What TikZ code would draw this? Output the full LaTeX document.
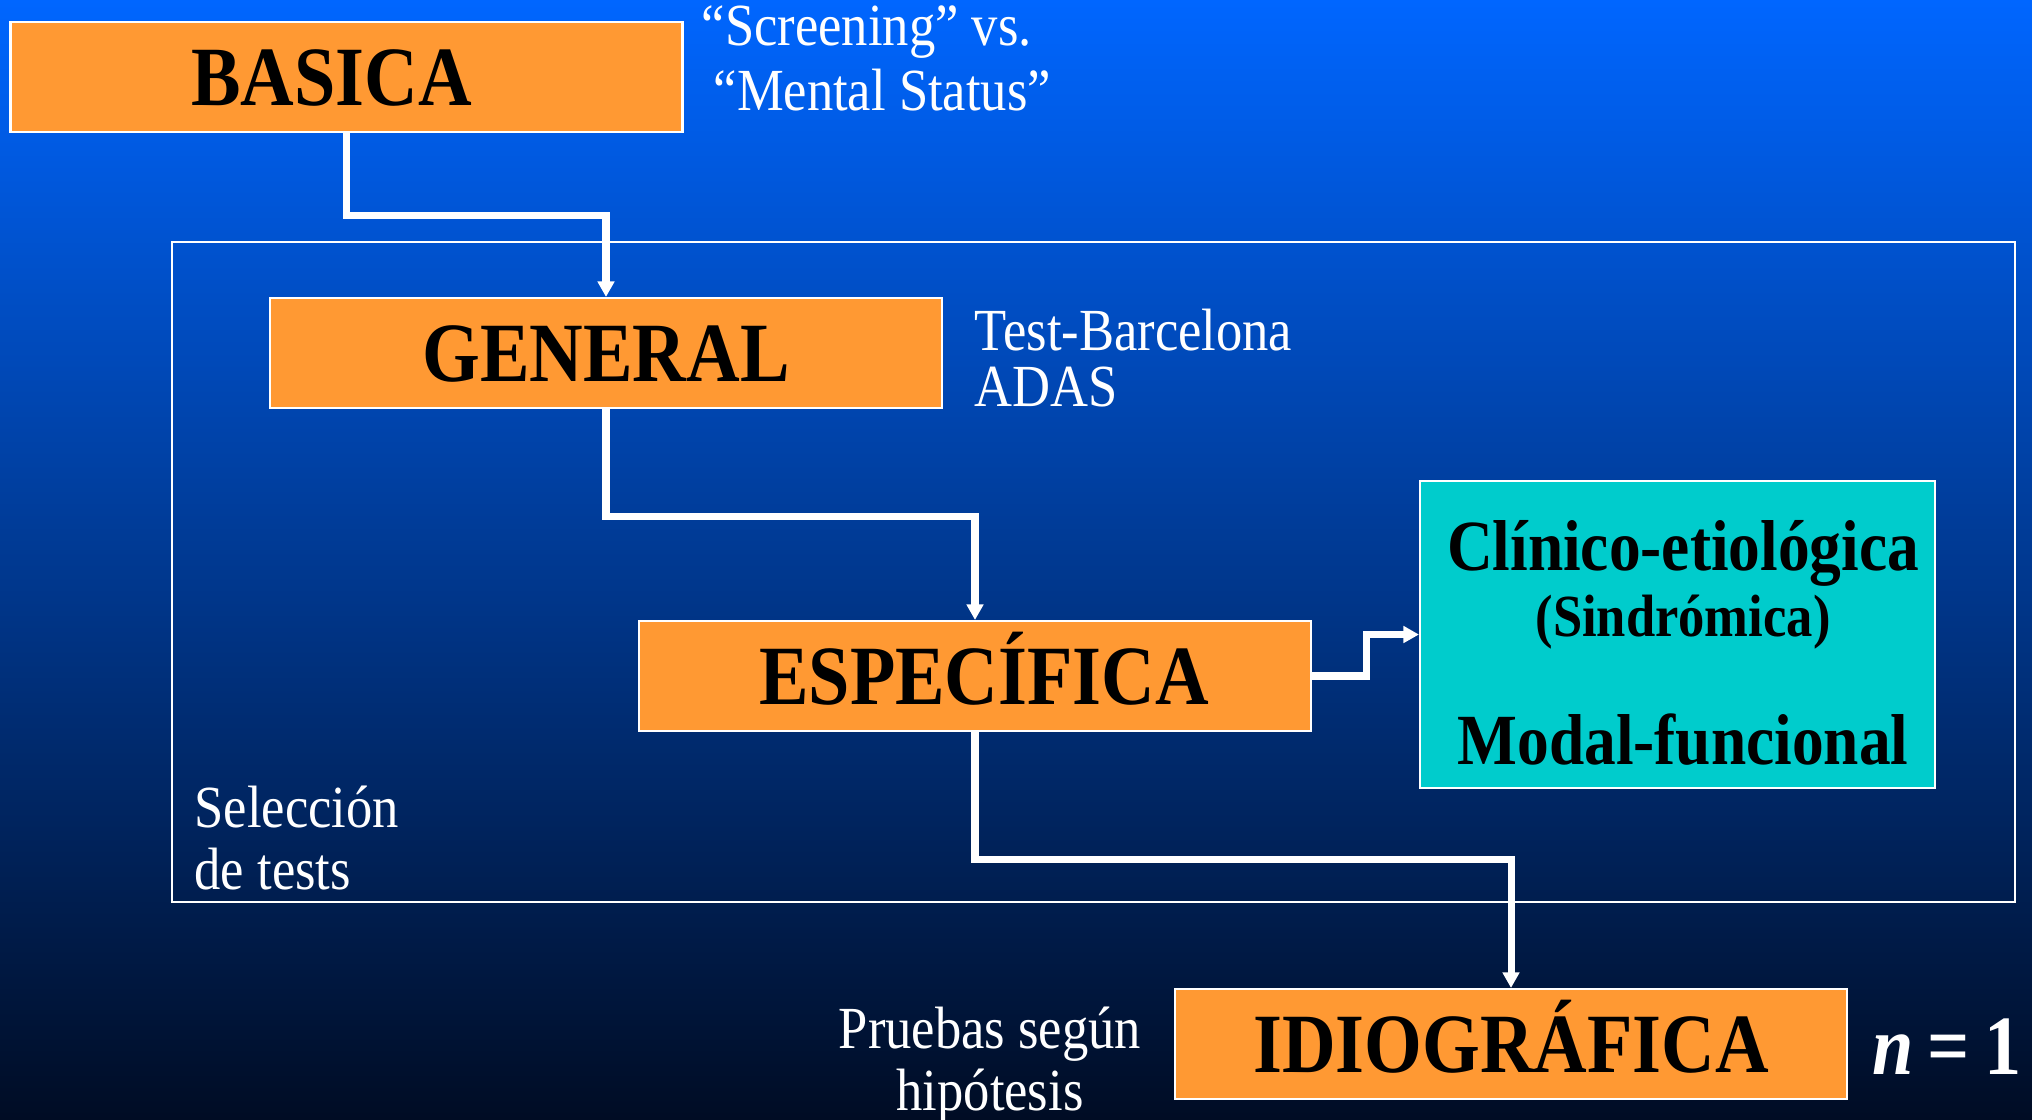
\documentclass[tikz,border=0pt]{standalone}
\usepackage{fontspec}
\setmainfont{Liberation Serif}[FakeStretch=0.88]
\usetikzlibrary{arrows.meta}
\definecolor{bgtop}{HTML}{0066FF}
\definecolor{bgmid}{HTML}{003A9C}
\definecolor{bgbot}{HTML}{000C24}
\definecolor{boxorange}{HTML}{FF9933}
\definecolor{boxcyan}{HTML}{00CCCC}
\begin{document}
\begin{tikzpicture}[>={Triangle[width=4.6pt,length=4.4pt]}]
        \tikzstyle{level}=[rectangle,draw=white,line width=0.6pt,fill=boxorange,minimum width=6.72cm,minimum height=1.1cm,inner sep=0pt,text height=16pt,text depth=0pt,font=\fontsize{24}{26}\selectfont\bfseries]
        \tikzstyle{note}=[text=white,inner sep=0pt,font=\fontsize{17}{18.3}\selectfont]
        \tikzstyle{conn}=[draw=white,line width=2pt,->]
        \shade[top color=bgtop,middle color=bgmid,bottom color=bgbot] (0,0) rectangle (20.32,11.19);
        \useasboundingbox (0,0) rectangle (20.32,11.19);
        % marco de seleccion
        \draw[white,line width=0.6pt] (1.72,2.17) rectangle (20.15,8.77);
        \node [level] (basica) at (3.465,10.42) {BASICA\hspace*{0.3cm}};
        \node [level] (general) at (6.06,7.66) {GENERAL};
        \node [level] (especifica) at (9.75,4.43) {\hspace*{0.18cm}ESPECÍFICA};
        \node [level] (idiografica) at (15.11,0.75) {IDIOGRÁFICA};
        \node [rectangle,draw=white,line width=0.6pt,fill=boxcyan,minimum width=5.15cm,minimum height=3.07cm] (clinico) at (16.775,4.845) {};
        \node [anchor=base,inner sep=0pt,font=\fontsize{20.5}{22}\selectfont\bfseries] (clinA) at (16.83,5.49) {Clínico-etiológica};
        \node [anchor=base,inner sep=0pt,font=\fontsize{17}{18}\selectfont\bfseries] (clinB) at (16.83,4.83) {(Sindrómica)};
        \node [anchor=base,inner sep=0pt,font=\fontsize{20.5}{22}\selectfont\bfseries] (clinC) at (16.83,3.55) {Modal-funcional};
        \node [note,align=left,anchor=west] (screening) at (7.01,10.605) {“Screening” vs.\\\hspace*{0.2em}“Mental Status”};
        \node [note,align=left,anchor=west,font=\fontsize{17}{15.8}\selectfont] (tests) at (9.74,7.61) {Test-Barcelona\\ADAS};
        \node [note,align=left,anchor=west,font=\fontsize{17}{17.6}\selectfont] (seleccion) at (1.94,2.81) {Selección\\de tests};
        \node [note,align=center,font=\fontsize{17}{17.8}\selectfont] (pruebas) at (9.90,0.54) {Pruebas según\\hipótesis};
        \node [anchor=base,inner sep=0pt,text=white,font=\fontsize{24}{26}\selectfont\bfseries] (nuno) at (19.47,0.445) {\textit{n}\,=\,1};
        \draw[conn] (basica.south) -- ++(0,-0.82) -| (general.north);
        \draw[conn] (general.south) -- ++(0,-1.07) -| (especifica.north);
        \draw[conn] (especifica.east) -- ++(0.54,0) |- (clinico.west);
        \draw[conn] (especifica.south) -- ++(0,-1.27) -| (idiografica.north);
\end{tikzpicture}
\end{document}
